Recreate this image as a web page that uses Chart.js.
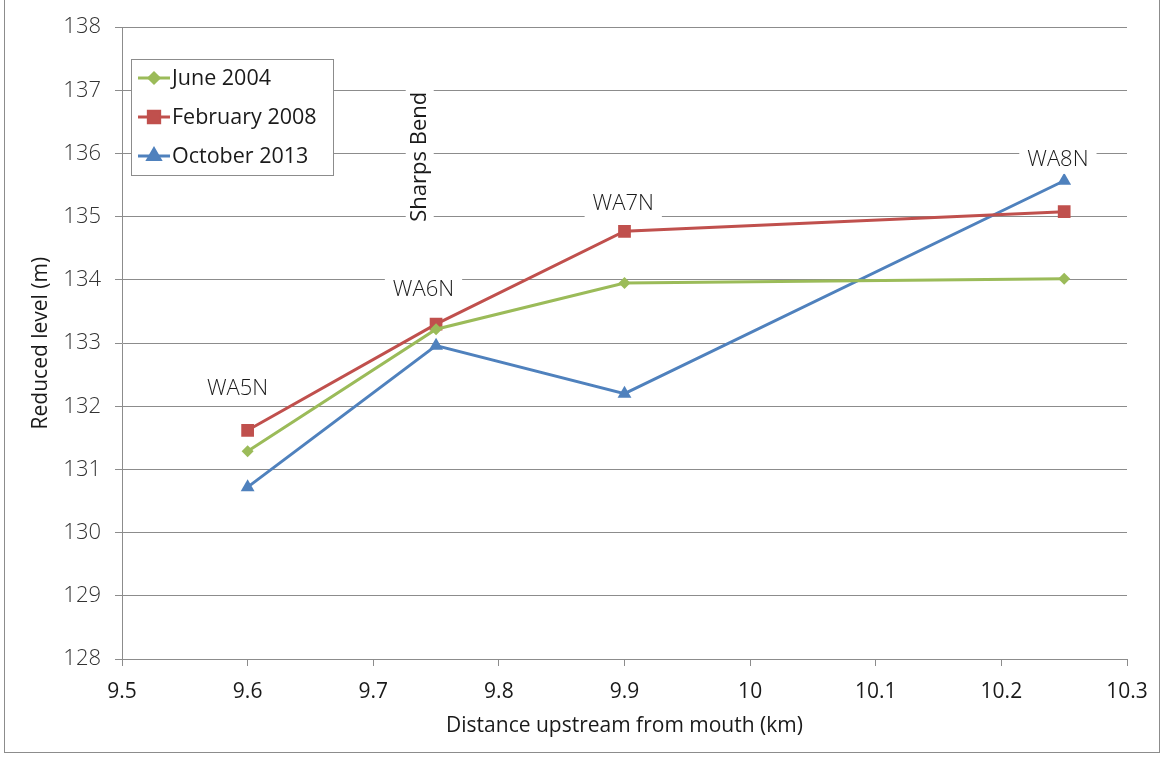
<!DOCTYPE html>
<html lang="en">
<head>
  <meta charset="UTF-8" />
  <title>Reduced level vs distance upstream</title>
  <script src="https://cdn.jsdelivr.net/npm/chart.js@4.4.1/dist/chart.umd.min.js"></script>
  <style>
    html, body { margin: 0; padding: 0; background: #fff; }
    .frame { position: relative; width: 1163px; height: 758px; }
    .frame::after { content: ''; position: absolute; left: 4px; top: -1px; width: 1154px; height: 752px;
      border: 1px solid #8c8c8c; pointer-events: none; }
    canvas { display: block; }
  </style>
</head>
<body>
  <div class="frame">
    <canvas id="levels" width="1163" height="758"></canvas>
  </div>

  <script>
  // distances (km) and reduced levels (m)
  const distances  = [9.6, 9.75, 9.9, 10.25];
  const june2004   = [131.29, 133.22, 133.95, 134.02];
  const feb2008    = [131.62, 133.30, 134.77, 135.08];
  const oct2013    = [130.72, 132.96, 132.20, 135.57];

  const stationNames = ['WA5N', 'WA6N', 'WA7N', 'WA8N'];
  const stationX     = [9.592, 9.74, 9.899, 10.245];
  const stationY     = [132.27, 133.85, 135.2, 135.9];

  const bendLabel = 'Sharps Bend';
  const bendX = 9.737, bendY = 135.95;

  const series = [
    { label: 'June 2004',     data: june2004, color: '#9BBB59', style: 'rectRot',  r: 6 },
    { label: 'February 2008', data: feb2008,  color: '#C0504D', style: 'rect',     r: 9 },
    { label: 'October 2013',  data: oct2013,  color: '#4F81BD', style: 'triangle', r: 8 }
  ];

  const textFont = '"Open Sans", "Noto Sans", sans-serif';
  const narrowFont = '"Liberation Sans Narrow", "Open Sans", sans-serif';

  // station names + rotated bend label, placed in data coordinates
  const labelsPlugin = {
    id: 'stationLabels',
    afterDatasetsDraw(chart) {
      const { ctx, scales: { x, y } } = chart;
      ctx.save();
      ctx.font = '300 22px ' + textFont;
      ctx.textAlign = 'center';
      ctx.textBaseline = 'middle';
      stationNames.forEach((name, i) => {
        const px = x.getPixelForValue(stationX[i]);
        const py = y.getPixelForValue(stationY[i]);
        const w = ctx.measureText(name).width;
        ctx.fillStyle = '#fff';
        ctx.fillRect(px - w / 2 - 8, py - 14, w + 16, 28);
        ctx.fillStyle = '#1a1a1a';
        ctx.fillText(name, px, py);
      });
      const bx = x.getPixelForValue(bendX), by = y.getPixelForValue(bendY);
      ctx.translate(bx, by);
      ctx.rotate(-Math.PI / 2);
      ctx.font = '22px ' + textFont;
      const bw = ctx.measureText(bendLabel).width;
      ctx.fillStyle = '#fff';
      ctx.fillRect(-bw / 2 - 6, -14, bw + 12, 28);
      ctx.fillStyle = '#1a1a1a';
      ctx.fillText(bendLabel, 0, 0);
      ctx.restore();
    }
  };

  // legend box inside the plot, top-left
  const legendPlugin = {
    id: 'boxLegend',
    afterDraw(chart) {
      const ctx = chart.ctx;
      const left = 131, top = 59, w = 202, h = 116;
      ctx.save();
      ctx.fillStyle = '#fff';
      ctx.fillRect(left, top, w, h);
      ctx.strokeStyle = '#8c8c8c';
      ctx.lineWidth = 1;
      ctx.strokeRect(left + 0.5, top + 0.5, w, h);
      ctx.font = '21.5px ' + textFont;
      ctx.textBaseline = 'middle';
      series.forEach((s, i) => {
        const cy = top + 19 + i * 39;
        ctx.strokeStyle = s.color;
        ctx.lineWidth = 3;
        ctx.beginPath(); ctx.moveTo(138, cy); ctx.lineTo(170, cy); ctx.stroke();
        Chart.helpers.drawPoint(ctx, {
          pointStyle: s.style, radius: s.r - 1, borderWidth: 1, rotation: 0
        }, 154, cy);
        ctx.fillStyle = s.color;
        ctx.fill();
        ctx.fillStyle = '#1a1a1a';
        ctx.fillText(s.label, 172, cy + 1);
      });
      ctx.restore();
    }
  };

  function draw() {
    new Chart(document.getElementById('levels'), {
      type: 'line',
      data: {
        datasets: series.map(s => ({
          label: s.label,
          data: distances.map((d, i) => ({ x: d, y: s.data[i] })),
          borderColor: s.color,
          backgroundColor: s.color,
          borderWidth: 3,
          pointStyle: s.style,
          pointRadius: s.r,
          pointBorderWidth: 0,
          tension: 0
        }))
      },
      options: {
        responsive: false,
        animation: false,
        layout: { padding: { left: 28, right: 36, top: 27, bottom: 19 } },
        plugins: { legend: { display: false }, tooltip: { enabled: false } },
        scales: {
          x: {
            type: 'linear', min: 9.5, max: 10.3,
            afterFit: s => { s.height = 80; },
            ticks: { stepSize: 0.1, color: '#1a1a1a', padding: 13,
              font: { family: narrowFont, size: 21 },
              callback: v => +v.toFixed(1) },
            grid: { drawOnChartArea: false, drawTicks: true, tickLength: 7, color: '#8c8c8c' },
            border: { color: '#8c8c8c' },
            title: { display: true, text: 'Distance upstream from mouth (km)', color: '#1a1a1a',
              font: { family: narrowFont, size: 21 }, padding: { top: 0, bottom: 0 } }
          },
          y: {
            min: 128, max: 138,
            afterFit: s => { s.width = 94; },
            ticks: { stepSize: 1, color: '#333', padding: 14,
              font: { family: textFont, size: 22, weight: 300 } },
            grid: { color: '#8c8c8c', tickLength: 7 },
            border: { color: '#8c8c8c' },
            title: { display: true, text: 'Reduced level (m)', color: '#1a1a1a',
              font: { family: narrowFont, size: 21 }, padding: { top: 0, bottom: 0 } }
          }
        }
      },
      plugins: [labelsPlugin, legendPlugin]
    });
  }

  Promise.all([
    document.fonts.load('20px "Open Sans"'),
    document.fonts.load('300 20px "Open Sans"'),
    document.fonts.load('20px "Liberation Sans Narrow"')
  ]).catch(() => {}).then(draw);
  </script>
</body>
</html>
